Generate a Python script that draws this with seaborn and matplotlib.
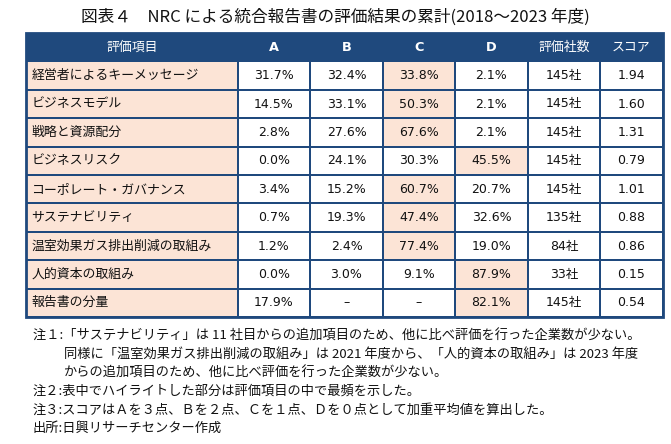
import matplotlib
matplotlib.use("Agg")
import matplotlib.pyplot as plt
import numpy as np
import seaborn as sns
from matplotlib.colors import ListedColormap
from matplotlib.patches import Rectangle

# %% DATA
items = [
    "経営者によるキーメッセージ",
    "ビジネスモデル",
    "戦略と資源配分",
    "ビジネスリスク",
    "コーポレート・ガバナンス",
    "サステナビリティ",
    "温室効果ガス排出削減の取組み",
    "人的資本の取組み",
    "報告書の分量",
]
headers = ["評価項目", "A", "B", "C", "D", "評価社数", "スコア"]

pct_a = [31.7, 14.5, 2.8, 0.0, 3.4, 0.7, 1.2, 0.0, 17.9]
pct_b = [32.4, 33.1, 27.6, 24.1, 15.2, 19.3, 2.4, 3.0, np.nan]
pct_c = [33.8, 50.3, 67.6, 30.3, 60.7, 47.4, 77.4, 9.1, np.nan]
pct_d = [2.1, 2.1, 2.1, 45.5, 20.7, 32.6, 19.0, 87.9, 82.1]
companies = [145, 145, 145, 145, 145, 135, 84, 33, 145]
scores = [1.94, 1.60, 1.31, 0.79, 1.01, 0.88, 0.86, 0.15, 0.54]

title = "図表４　NRC による統合報告書の評価結果の累計(2018～2023 年度)"
notes = [
    "注１:「サステナビリティ」は 11 社目からの追加項目のため、他に比べ評価を行った企業数が少ない。",
    "同様に「温室効果ガス排出削減の取組み」は 2021 年度から、「人的資本の取組み」は 2023 年度",
    "からの追加項目のため、他に比べ評価を行った企業数が少ない。",
    "注２:表中でハイライトした部分は評価項目の中で最頻を示した。",
    "注３:スコアはＡを３点、Ｂを２点、Ｃを１点、Ｄを０点として加重平均値を算出した。",
    "出所:日興リサーチセンター作成",
]
note_indent = [0, 1, 1, 0, 0, 0]

# %% STYLE
NAVY = "#1F497D"
PEACH = "#FCE4D6"
sns.set_style("white")
plt.rcParams["font.family"] = ["DejaVu Sans", "Noto Sans CJK JP"]
JP = ["Noto Sans CJK JP", "DejaVu Sans"]

W, H = 671, 444
fig = plt.figure(figsize=(W / 100, H / 100), dpi=100)

col_edges = [26, 238, 310, 383, 455, 528, 600, 663]
top, bottom = 33, 317

# %% BUILD COLUMNS
pct = np.array([pct_a, pct_b, pct_c, pct_d], dtype=float).T
best = np.nanargmax(pct, axis=1)


def fmt_pct(v):
    return "–" if np.isnan(v) else f"{v:.1f}%"


col_texts = [items]
col_codes = [[1] * len(items)]
for g in range(4):
    col_texts.append([fmt_pct(v) for v in pct[:, g]])
    col_codes.append([1 if best[i] == g else 0 for i in range(len(items))])
col_texts.append([f"{c}社" for c in companies])
col_codes.append([0] * len(items))
col_texts.append([f"{s:.2f}" for s in scores])
col_codes.append([0] * len(items))

cmap = ListedColormap(["white", PEACH, NAVY])

# %% DRAW TABLE
for k in range(len(headers)):
    x0, x1 = col_edges[k], col_edges[k + 1]
    ax = fig.add_axes([x0 / W, 1 - bottom / H, (x1 - x0) / W, (bottom - top) / H])
    codes = np.array([2] + col_codes[k]).reshape(-1, 1)
    annot = np.array([headers[k]] + col_texts[k], dtype=object).reshape(-1, 1)
    sns.heatmap(
        codes,
        ax=ax,
        cmap=cmap,
        vmin=-0.5,
        vmax=2.5,
        cbar=False,
        annot=annot,
        fmt="",
        linewidths=1.4,
        linecolor=NAVY,
        xticklabels=False,
        yticklabels=False,
        annot_kws={"fontsize": 9, "color": "#111111"},
    )
    for i, t in enumerate(ax.texts):
        if i == 0:
            t.set_color("white")
            t.set_fontsize(9.3)
            if headers[k] in ("A", "B", "C", "D"):
                t.set_fontweight("bold")
        elif k == 0:
            t.set_ha("left")
            t.set_x(0.025)
            t.set_fontsize(9.3)

fig.patches.append(
    Rectangle(
        (col_edges[0] / W, 1 - bottom / H),
        (col_edges[-1] - col_edges[0]) / W,
        (bottom - top) / H,
        transform=fig.transFigure,
        fill=False,
        edgecolor=NAVY,
        linewidth=2,
    )
)

# %% TITLE AND NOTES
fig.text(335 / W, 1 - 17 / H, title, ha="center", va="center", fontsize=12,
         family=JP, color="#111111")

for n, (line, ind) in enumerate(zip(notes, note_indent)):
    x = 64 if ind else 33
    y = 336 + n * 18.5
    fig.text(x / W, 1 - y / H, line, ha="left", va="center", fontsize=9.5,
             family=JP, color="#111111")

fig.savefig("out.png", dpi=100)
